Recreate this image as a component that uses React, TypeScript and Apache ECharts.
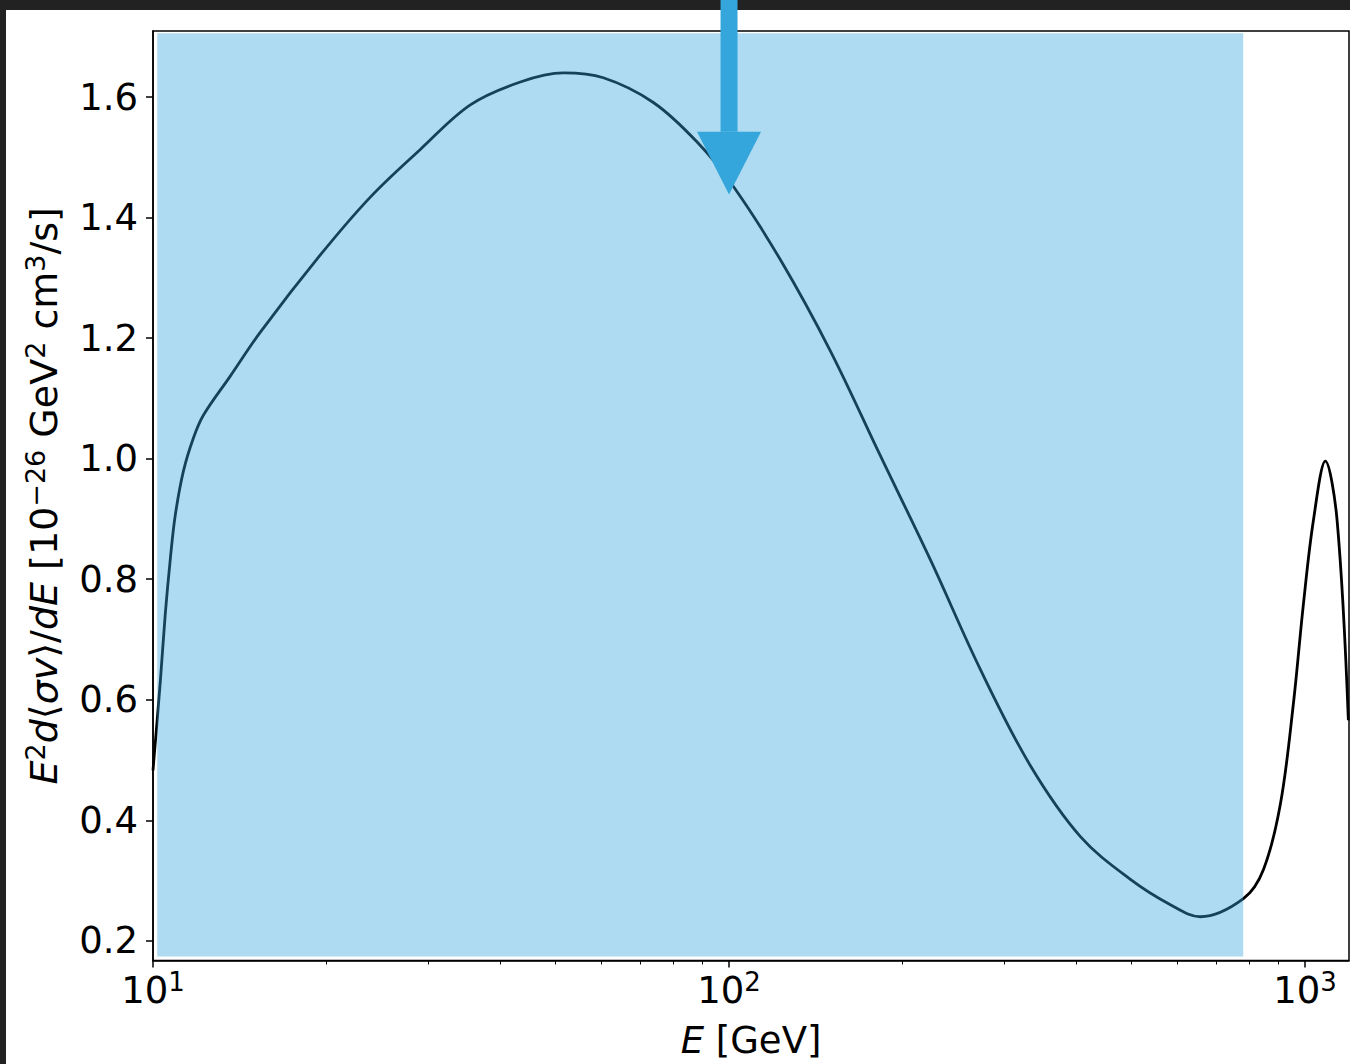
import React, { useEffect, useRef } from "react";
import * as echarts from "echarts";

// Spectrum E^2 d<sigma v>/dE versus photon energy E (GeV)
const energyGeV = [
  10.0, 10.3, 10.5, 10.72, 10.93, 11.29, 11.75, 12.23, 13.62, 15.36,
  19.52, 23.84, 29.11, 35.55, 43.42, 51.55, 60.5, 73.89, 88.1, 101.7, 122.8,
  149.9, 183.1, 223.7, 273.2, 333.4, 407.4, 497.5, 583.7, 658, 781.5, 846.6,
  906.1, 954.3, 993.2, 1033.7, 1084.4, 1136.8, 1189,
];
const spectrum = [
  0.483, 0.632, 0.741, 0.835, 0.906, 0.979, 1.034, 1.072, 1.137, 1.21,
  1.338, 1.434, 1.513, 1.587, 1.625, 1.64, 1.632, 1.591, 1.525, 1.452, 1.33,
  1.179, 1.005, 0.832, 0.65, 0.491, 0.373, 0.302, 0.26, 0.24, 0.27, 0.318,
  0.427, 0.593, 0.758, 0.897, 0.996, 0.897, 0.566,
];

const xMajorTicks = [10, 100, 1000];
const xMinorTicks = [20, 30, 40, 50, 60, 70, 80, 90, 200, 300, 400, 500, 600, 700, 800, 900];
const yTicks = [0.2, 0.4, 0.6, 0.8, 1.0, 1.2, 1.4, 1.6];
const xRange = [10, 1192];
const yRange = [0.1674, 1.7096];

// shaded band
const bandE = [10.17, 781];
const bandV = [0.174, 1.706];

// arrow marker
const arrowE = 100;
const arrowTipV = 1.4385;
const arrowHeadV = 1.5426;

const FONT = "DejaVu Sans";
const ARROW = "#35a6db";

export default function App() {
  const ref = useRef<HTMLDivElement>(null);

  useEffect(() => {
    const chart = echarts.init(ref.current!, null, { renderer: "svg" });

    const rich: any = {
      b: { fontSize: 37, fontFamily: FONT, color: "#000", lineHeight: 44 },
      i: { fontSize: 37, fontFamily: FONT, fontStyle: "italic", color: "#000", lineHeight: 44 },
      s: { fontSize: 26, fontFamily: FONT, color: "#000", lineHeight: 24, verticalAlign: "top" },
    };
    const richY: any = {
      b: { fontSize: 38, fontFamily: FONT, color: "#000", lineHeight: 44 },
      i: { fontSize: 38, fontFamily: FONT, fontStyle: "italic", color: "#000", lineHeight: 44 },
      s: { fontSize: 27, fontFamily: FONT, color: "#000", lineHeight: 24, verticalAlign: "top" },
    };

    const darkBars = [
      { type: "rect", shape: { x: 0, y: 0, width: 1350, height: 10 }, style: { fill: "#222222" }, z: 0 },
      { type: "rect", shape: { x: 0, y: 0, width: 6, height: 1064 }, style: { fill: "#222222" }, z: 0 },
    ];

    chart.setOption({
      animation: false,
      backgroundColor: "#ffffff",
      grid: {
        left: 153,
        right: 1,
        top: 31,
        bottom: 100,
        show: true,
        borderColor: "#000",
        borderWidth: 1.5,
        backgroundColor: "transparent",
      },
      xAxis: [
        {
          type: "log",
          logBase: 10,
          min: xRange[0],
          max: xRange[1],
          axisLine: { show: true, lineStyle: { color: "#000", width: 1.5 } },
          axisTick: {
            show: true,
            customValues: xMajorTicks,
            length: 7,
            lineStyle: { color: "#000", width: 1.5 },
          },
          axisLabel: {
            customValues: xMajorTicks,
            margin: 8,
            formatter: (v: number) => `{b|10}{s|${Math.round(Math.log10(v))}}`,
            rich,
          },
          splitLine: { show: false },
          minorTick: { show: false },
          name: "{i|E}{b| [GeV]}",
          nameLocation: "middle",
          nameGap: 58,
          nameTextStyle: { rich },
        },
        {
          type: "log",
          logBase: 10,
          min: xRange[0],
          max: xRange[1],
          position: "bottom",
          axisLine: { show: false },
          axisLabel: { show: false },
          axisTick: {
            show: true,
            customValues: xMinorTicks,
            length: 4,
            lineStyle: { color: "#000", width: 1 },
          },
          splitLine: { show: false },
        },
      ],
      yAxis: {
        type: "value",
        min: yRange[0],
        max: yRange[1],
        axisLine: { show: true, lineStyle: { color: "#000", width: 1.5 } },
        axisTick: {
          show: true,
          customValues: yTicks,
          length: 7,
          lineStyle: { color: "#000", width: 1.5 },
        },
        axisLabel: {
          customValues: yTicks,
          margin: 15,
          fontSize: 37,
          fontFamily: FONT,
          color: "#000",
          formatter: (v: number) => v.toFixed(1),
        },
        splitLine: { show: false },
        name:
          "{i|E}{s|2}{i|d}{b|⟨}{i|σv}{b|⟩/}{i|dE}{b| [10}{s|−26}{b| GeV}{s|2}{b| cm}{s|3}{b|/s]}",
        nameLocation: "middle",
        nameGap: 87,
        nameTextStyle: { rich: richY },
      },
      series: [
        {
          type: "line",
          xAxisIndex: 0,
          yAxisIndex: 0,
          data: energyGeV.map((e, i) => [e, spectrum[i]]),
          smooth: 0.35,
          showSymbol: false,
          symbol: "none",
          clip: true,
          z: 2,
          lineStyle: { color: "#000", width: 2.8 },
          markArea: {
            silent: true,
            z: 5,
            itemStyle: { color: "rgba(53,166,219,0.4)" },
            label: { show: false },
            data: [[{ coord: [bandE[0], bandV[0]] }, { coord: [bandE[1], bandV[1]] }]],
          },
        },
      ],
      graphic: darkBars,
    });

    const tip = chart.convertToPixel({ gridIndex: 0 } as any, [arrowE, arrowTipV]) as number[];
    const head = chart.convertToPixel({ gridIndex: 0 } as any, [arrowE, arrowHeadV]) as number[];
    chart.setOption({
      graphic: [
        ...darkBars,
        {
          type: "rect",
          shape: { x: tip[0] - 8.5, y: 0, width: 17, height: head[1] },
          style: { fill: ARROW },
          z: 100,
        },
        {
          type: "polygon",
          shape: {
            points: [
              [tip[0] - 32, head[1]],
              [tip[0] + 32, head[1]],
              [tip[0], tip[1]],
            ],
          },
          style: { fill: ARROW },
          z: 100,
        },
      ],
    });

    return () => chart.dispose();
  }, []);

  return (
    <div
      ref={ref}
      style={{ position: "absolute", left: 0, top: 0, width: 1350, height: 1064 }}
    />
  );
}
